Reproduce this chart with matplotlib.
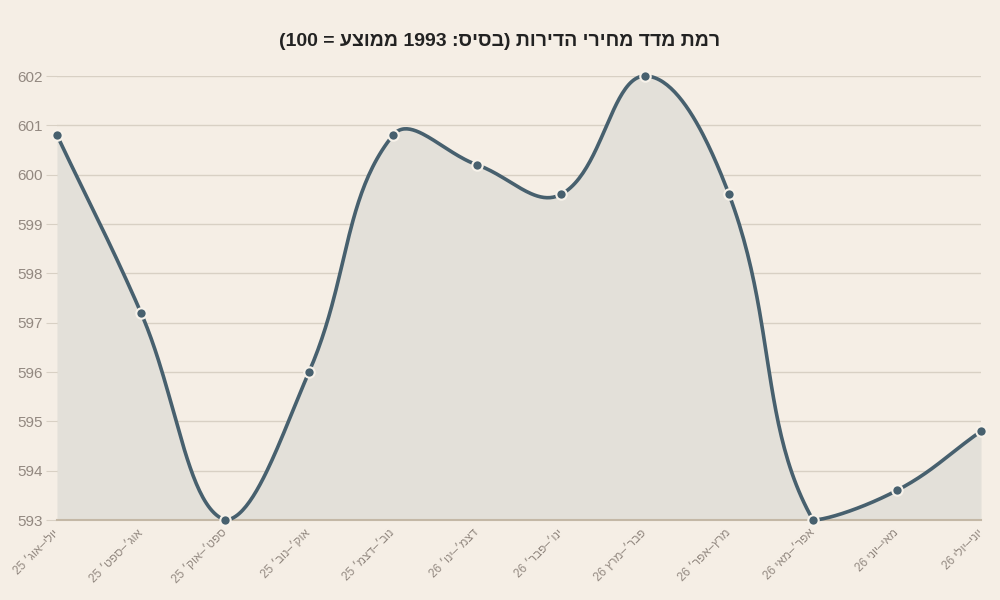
import re
import numpy as np
import matplotlib
matplotlib.use("Agg")
import matplotlib.pyplot as plt

# ---- data ----
categories = ["יולי–אוג׳ 25", "אוג׳–ספט׳ 25", "ספט׳–אוק׳ 25", "אוק׳–נוב׳ 25",
              "נוב׳–דצמ׳ 25", "דצמ׳–ינו׳ 26", "ינו׳–פבר׳ 26", "פבר׳–מרץ 26",
              "מרץ–אפר׳ 26", "אפר׳–מאי 26", "מאי–יוני 26", "יוני–יולי 26"]
values = [600.8, 597.2, 593.0, 596.0, 600.8, 600.2, 599.6, 602.0, 599.6, 593.0, 593.6, 594.8]
y_ticks = [593, 594, 595, 596, 597, 598, 599, 600, 601, 602]
title = "רמת מדד מחירי הדירות (בסיס: 1993 ממוצע = 100)"


def vis(s):
    """Logical RTL string -> visual order for left-to-right rendering."""
    r = s[::-1].translate(str.maketrans("()", ")("))
    return re.sub(r"\d+", lambda m: m.group(0)[::-1], r)


BG = "#f5eee5"
LINE = "#47606e"
FILL = "#e3e0d9"
GRID = "#d8d0c4"
AXIS = "#c4b8a6"
TICK = "#928880"
FONT = ["Liberation Sans", "DejaVu Sans"]

plt.rcParams["font.family"] = FONT

fig = plt.figure(figsize=(10, 6), dpi=100, facecolor=BG)
ax = fig.add_axes([0.057, 1 - 520 / 600, 0.924, 444 / 600])
ax.set_facecolor(BG)

x = np.arange(len(values))
ax.set_xlim(0, len(values) - 1)
ax.set_ylim(y_ticks[0], y_ticks[-1])

# spline with tension 0.4, control points capped to the plot area (pixel space)
P = ax.transData.transform(np.column_stack([x, values]))
bb = ax.bbox
n = len(P)
tension = 0.4
cprev = np.zeros_like(P)
cnext = np.zeros_like(P)
for i in range(n):
    prev = P[i - 1] if i > 0 else P[i]
    nxt = P[i + 1] if i < n - 1 else P[i]
    d01 = np.hypot(*(P[i] - prev))
    d12 = np.hypot(*(nxt - P[i]))
    tot = d01 + d12
    s01 = d01 / tot if tot else 0
    s12 = d12 / tot if tot else 0
    cprev[i] = P[i] - tension * s01 * (nxt - prev)
    cnext[i] = P[i] + tension * s12 * (nxt - prev)
for c in (cprev, cnext):
    c[:, 0] = np.clip(c[:, 0], bb.x0, bb.x1)
    c[:, 1] = np.clip(c[:, 1], bb.y0, bb.y1)

curve = [P[0]]
t = np.linspace(0, 1, 50)[1:, None]
for i in range(n - 1):
    p1, c1, c2, p2 = P[i], cnext[i], cprev[i + 1], P[i + 1]
    seg = (1 - t) ** 3 * p1 + 3 * (1 - t) ** 2 * t * c1 + 3 * (1 - t) * t ** 2 * c2 + t ** 3 * p2
    curve.extend(seg)
curve = ax.transData.inverted().transform(np.array(curve))
cx, cy = curve[:, 0], curve[:, 1]

ax.fill_between(cx, cy, y_ticks[0], color=FILL, linewidth=0, zorder=1)
ax.plot(cx, cy, color=LINE, linewidth=2.6, zorder=3, solid_capstyle="round",
        clip_on=False)
ax.plot(x, values, linestyle="none", marker="o", markersize=7.5,
        markerfacecolor=LINE, markeredgecolor="#f7f2ea", markeredgewidth=1.5,
        zorder=4, clip_on=False)

# grid & axes
ax.set_yticks(y_ticks)
ax.set_yticklabels([str(v) for v in y_ticks])
ax.grid(axis="y", color=GRID, linewidth=1, zorder=0)
ax.set_axisbelow(True)
for s in ["top", "right", "left"]:
    ax.spines[s].set_visible(False)
ax.spines["bottom"].set_color(AXIS)
ax.spines["bottom"].set_linewidth(1.5)
ax.spines["bottom"].set_zorder(2)
ax.tick_params(axis="y", length=8, color=GRID, labelcolor=TICK, labelsize=11, pad=2)
ax.tick_params(axis="x", length=0, labelcolor=TICK, labelsize=8.5, pad=8)

ax.set_xticks(x)
ax.set_xticklabels([vis(c) for c in categories], rotation=45, ha="right",
                   rotation_mode="anchor", va="center")

fig.text(0.5, 1 - 42 / 600, vis(title), ha="center", va="center",
         fontsize=14, fontweight="bold", color="#222222")

fig.savefig("out.png", dpi=100, facecolor=BG)
